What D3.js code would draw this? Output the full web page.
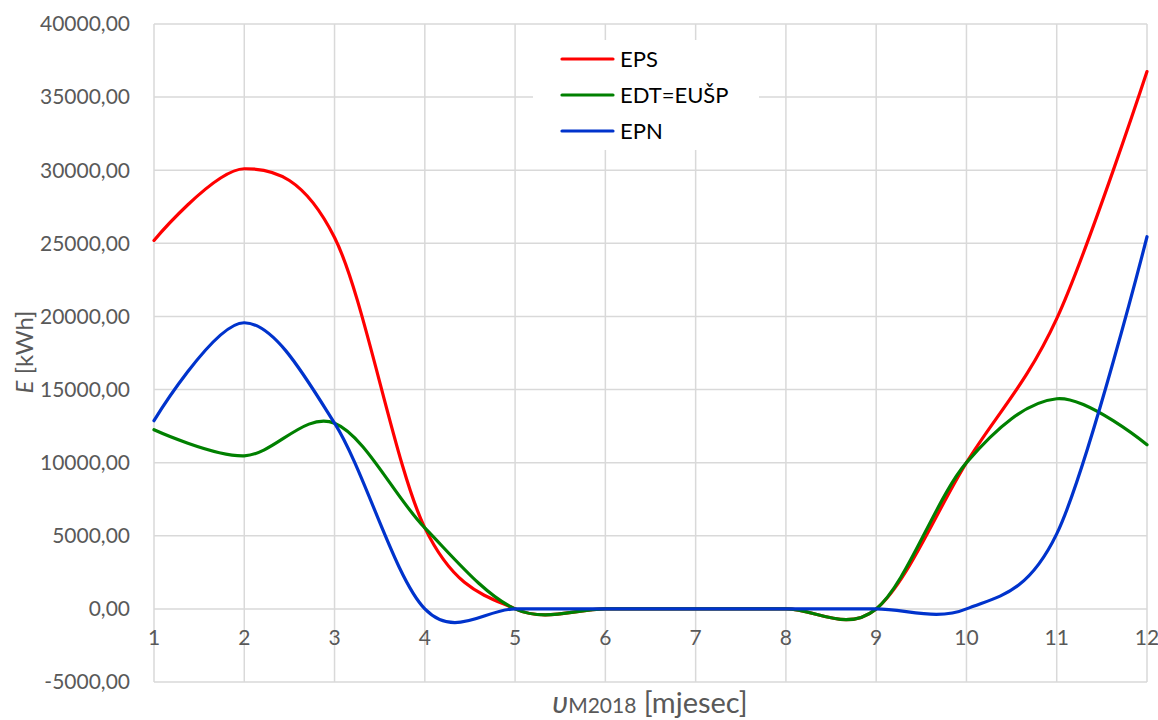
<!DOCTYPE html>
<html><head><meta charset="utf-8">
<script src="https://cdn.jsdelivr.net/npm/d3@7"></script>
<style>body{margin:0;background:#fff}text{font-family:Lato,"Open Sans",sans-serif}</style>
</head><body>
<svg id="c" width="1158" height="720"></svg>
<script>
const months = [1,2,3,4,5,6,7,8,9,10,11,12];
const EPS = [25200, 30100, 25400, 5540, 0, 0, 0, 0, 0, 10000, 19850, 36750];
const EDT = [12250, 10470, 12700, 5540, 0, 0, 0, 0, 0, 10000, 14370, 11220];
const EPN = [12870, 19570, 12700, 0, 0, 0, 0, 0, 0, 0, 5130, 25450];
const yTicks = [-5000,0,5000,10000,15000,20000,25000,30000,35000,40000];
const seriesNames = ["EPS","EDT=EUŠP","EPN"];
const seriesColors = ["#ff0000","#008000","#0033cc"];

const svg = d3.select("#c");
const L=154, R=1147, T=24, B=682;
const x = d3.scaleLinear().domain([1,12]).range([L,R]);
const y = d3.scaleLinear().domain([-5000,40000]).range([B,T]);
const grid="#d9d9d9";
svg.append("g").selectAll("line").data(yTicks).join("line")
  .attr("x1",L).attr("x2",R).attr("y1",d=>y(d)).attr("y2",d=>y(d))
  .attr("stroke",grid).attr("stroke-width",1.5);
svg.append("g").selectAll("line").data(months).join("line")
  .attr("x1",d=>x(d)).attr("x2",d=>x(d)).attr("y1",T).attr("y2",B)
  .attr("stroke",grid).attr("stroke-width",1.5);
const fmt = d=>d3.format(".2f")(d).replace(".",",").replace("\u2212","-");
svg.append("g").selectAll("text").data(yTicks).join("text")
  .attr("x",130).attr("y",d=>y(d)).attr("dy","0.35em").attr("text-anchor","end")
  .attr("font-size",21).attr("fill","#595959").text(fmt);
svg.append("g").selectAll("text").data(months).join("text")
  .attr("x",d=>x(d)).attr("y",y(0)+29).attr("dy","0.35em").attr("text-anchor","middle")
  .attr("font-size",21).attr("fill","#595959").text(d=>d);
const line = d3.line().x((d,i)=>x(months[i])).y(d=>y(d)).curve(d3.curveCardinal.tension(0));
[EPS,EDT,EPN].forEach((s,i)=>{
  svg.append("path").attr("d",line(s)).attr("fill","none")
    .attr("stroke",seriesColors[i]).attr("stroke-width",3.2).attr("stroke-linecap","round");
});
const lg = svg.append("g");
lg.append("rect").attr("x",533).attr("y",40).attr("width",226).attr("height",110).attr("fill","#fff");
const ly=[59,95,131];
seriesNames.forEach((n,i)=>{
  lg.append("line").attr("x1",562).attr("x2",613).attr("y1",ly[i]).attr("y2",ly[i])
    .attr("stroke",seriesColors[i]).attr("stroke-width",3.2).attr("stroke-linecap","round");
  lg.append("text").attr("x",620).attr("y",ly[i]).attr("dy","0.35em")
    .attr("font-size",22).attr("fill","#000").text(n);
});
const xt = svg.append("text").attr("x",650).attr("y",713).attr("text-anchor","middle").attr("fill","#595959");
xt.append("tspan").attr("font-style","italic").attr("font-size",31).text("υ");
xt.append("tspan").attr("font-size",21).text("M2018");
xt.append("tspan").attr("font-size",29).text(" [mjesec]");
const yt = svg.append("text").attr("transform","translate(33,352) rotate(-90)").attr("text-anchor","middle")
  .attr("font-size",24).attr("fill","#595959");
yt.append("tspan").attr("font-style","italic").text("E");
yt.append("tspan").text(" [kWh]");
</script>
</body></html>
